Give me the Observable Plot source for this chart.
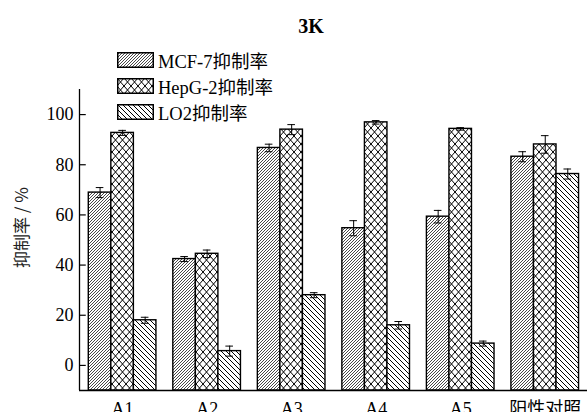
<!DOCTYPE html>
<html>
<head>
<meta charset="utf-8">
<script src="https://cdn.jsdelivr.net/npm/d3@7"></script>
<script src="https://cdn.jsdelivr.net/npm/@observablehq/plot@0.6"></script>
<style>
  body { margin: 0; background: #fff; }
  #wrap { position: relative; width: 587px; height: 412px; overflow: hidden;
          font-family: "Liberation Serif", "Times New Roman", "Noto Sans CJK SC", serif; }
  #title { position: absolute; left: 0; width: 622px; top: 15px; text-align: center;
           font-weight: bold; font-size: 20px; }
  .leg { position: absolute; left: 117px; height: 16px; display: flex; align-items: center;
         font-size: 18.5px; white-space: nowrap; }
  .leg svg { margin-right: 4px; }
</style>
</head>
<body>
<div id="wrap">
  <div id="chart"></div>
  <div id="title">3K</div>
  <div id="legend"></div>
</div>
<script>
const groups = ["A1", "A2", "A3", "A4", "A5", "阳性对照"];
const series = ["MCF-7抑制率", "HepG-2抑制率", "LO2抑制率"];
const mcf    = [68.9, 42.4, 86.7, 54.7, 59.3, 83.2];
const mcfErr = [2.0, 1.0, 1.5, 3.0, 2.5, 2.0];
const hep    = [92.7, 44.5, 94.0, 96.9, 94.3, 88.1];
const hepErr = [1.0, 1.5, 2.0, 0.7, 0.5, 3.5];
const lo2    = [18.0, 5.7, 28.0, 16.0, 8.7, 76.3];
const lo2Err = [1.2, 2.0, 1.0, 1.5, 1.0, 2.0];
const yTicks = [0, 20, 40, 60, 80, 100];
const yLabel = "抑制率 / %";

const patternIds = ["p-mcf", "p-hep", "p-lo2"];
const barW = 0.2667;
const cap = 0.045;
const tickLen = 0.08;
const xMin = -0.51, xMax = 5.5;
const yMin = -10, yMax = 110;

const values = [mcf, hep, lo2];
const errs = [mcfErr, hepErr, lo2Err];
const rows = [];
groups.forEach((g, gi) => {
  series.forEach((s, si) => {
    rows.push({group: g, gi, series: s, si, value: values[si][gi], err: errs[si][gi],
               pos: gi + (si - 1) * barW});
  });
});

const plot = Plot.plot({
  width: 587,
  height: 412,
  marginLeft: 79,
  marginRight: 0,
  marginTop: 89,
  marginBottom: 22,
  style: {fontFamily: '"Liberation Serif", "Times New Roman", "Noto Sans CJK SC", serif', fontSize: "17px", color: "black", background: "transparent"},
  x: {domain: [xMin, xMax]},
  y: {domain: [yMin, yMax]},
  color: {type: "ordinal", domain: series, range: patternIds.map(id => `url(#${id})`)},
  marks: [
    Plot.rectY(rows, {x1: d => d.pos - barW / 2, x2: d => d.pos + barW / 2, y1: yMin, y2: "value",
                      fill: "series", stroke: "black", strokeWidth: 1.4}),
    Plot.ruleX(rows, {x: "pos", y1: d => d.value - d.err, y2: d => d.value + d.err, stroke: "black", strokeWidth: 1}),
    Plot.ruleY(rows, {y: d => d.value + d.err, x1: d => d.pos - cap, x2: d => d.pos + cap, stroke: "black", strokeWidth: 1}),
    Plot.ruleY(rows, {y: d => d.value - d.err, x1: d => d.pos - cap, x2: d => d.pos + cap, stroke: "black", strokeWidth: 1}),
    Plot.ruleY([yMin], {stroke: "black", strokeWidth: 1.5}),
    Plot.ruleX([xMin], {stroke: "black", strokeWidth: 1.3}),
    Plot.ruleY(yTicks, {x1: xMin, x2: xMin + tickLen, stroke: "black", strokeWidth: 1.2}),
    Plot.axisY({ticks: yTicks, tickSize: 0, tickPadding: 6, fontSize: 18, label: null}),
    Plot.axisX({ticks: groups.map((_, i) => i), tickFormat: i => groups[i], tickSize: 0, tickPadding: 12, fontSize: 18, label: null}),
    Plot.text([yLabel], {frameAnchor: "left", dx: -57, dy: 28, rotate: -90, fontSize: 17,
                         fontFamily: '"Noto Sans CJK SC", sans-serif', fill: "#222"})
  ]
});

// hatch patterns
const defs = d3.select(plot).insert("defs", ":first-child");
function pat(id, w, h, d, sw, col) {
  const p = defs.append("pattern").attr("id", id).attr("patternUnits", "userSpaceOnUse")
    .attr("width", w).attr("height", h);
  p.append("rect").attr("width", w).attr("height", h).attr("fill", "white");
  p.append("path").attr("d", d).attr("stroke", col).attr("stroke-width", sw).attr("fill", "none");
}
pat("p-mcf", 3, 3, "M-1,1 L1,-1 M0,3 L3,0 M2,4 L4,2", 0.9, "#333");
pat("p-hep", 7, 8, "M0,0 L7,8 M7,0 L0,8", 1, "#000");
pat("p-lo2", 5, 5, "M0,0 L5,5 M-1,4 L1,6 M4,-1 L6,1", 1, "#000");

document.getElementById("chart").appendChild(plot);

// legend
const legend = document.getElementById("legend");
const legTops = [52, 78, 104];
series.forEach((s, i) => {
  const div = document.createElement("div");
  div.className = "leg";
  div.style.top = legTops[i] + "px";
  div.innerHTML = `<svg width="37" height="16"><rect x="0.75" y="0.75" width="35.5" height="14.5" fill="url(#${patternIds[i]})" stroke="black" stroke-width="1.5"/></svg><span>${s}</span>`;
  legend.appendChild(div);
});
</script>
</body>
</html>
